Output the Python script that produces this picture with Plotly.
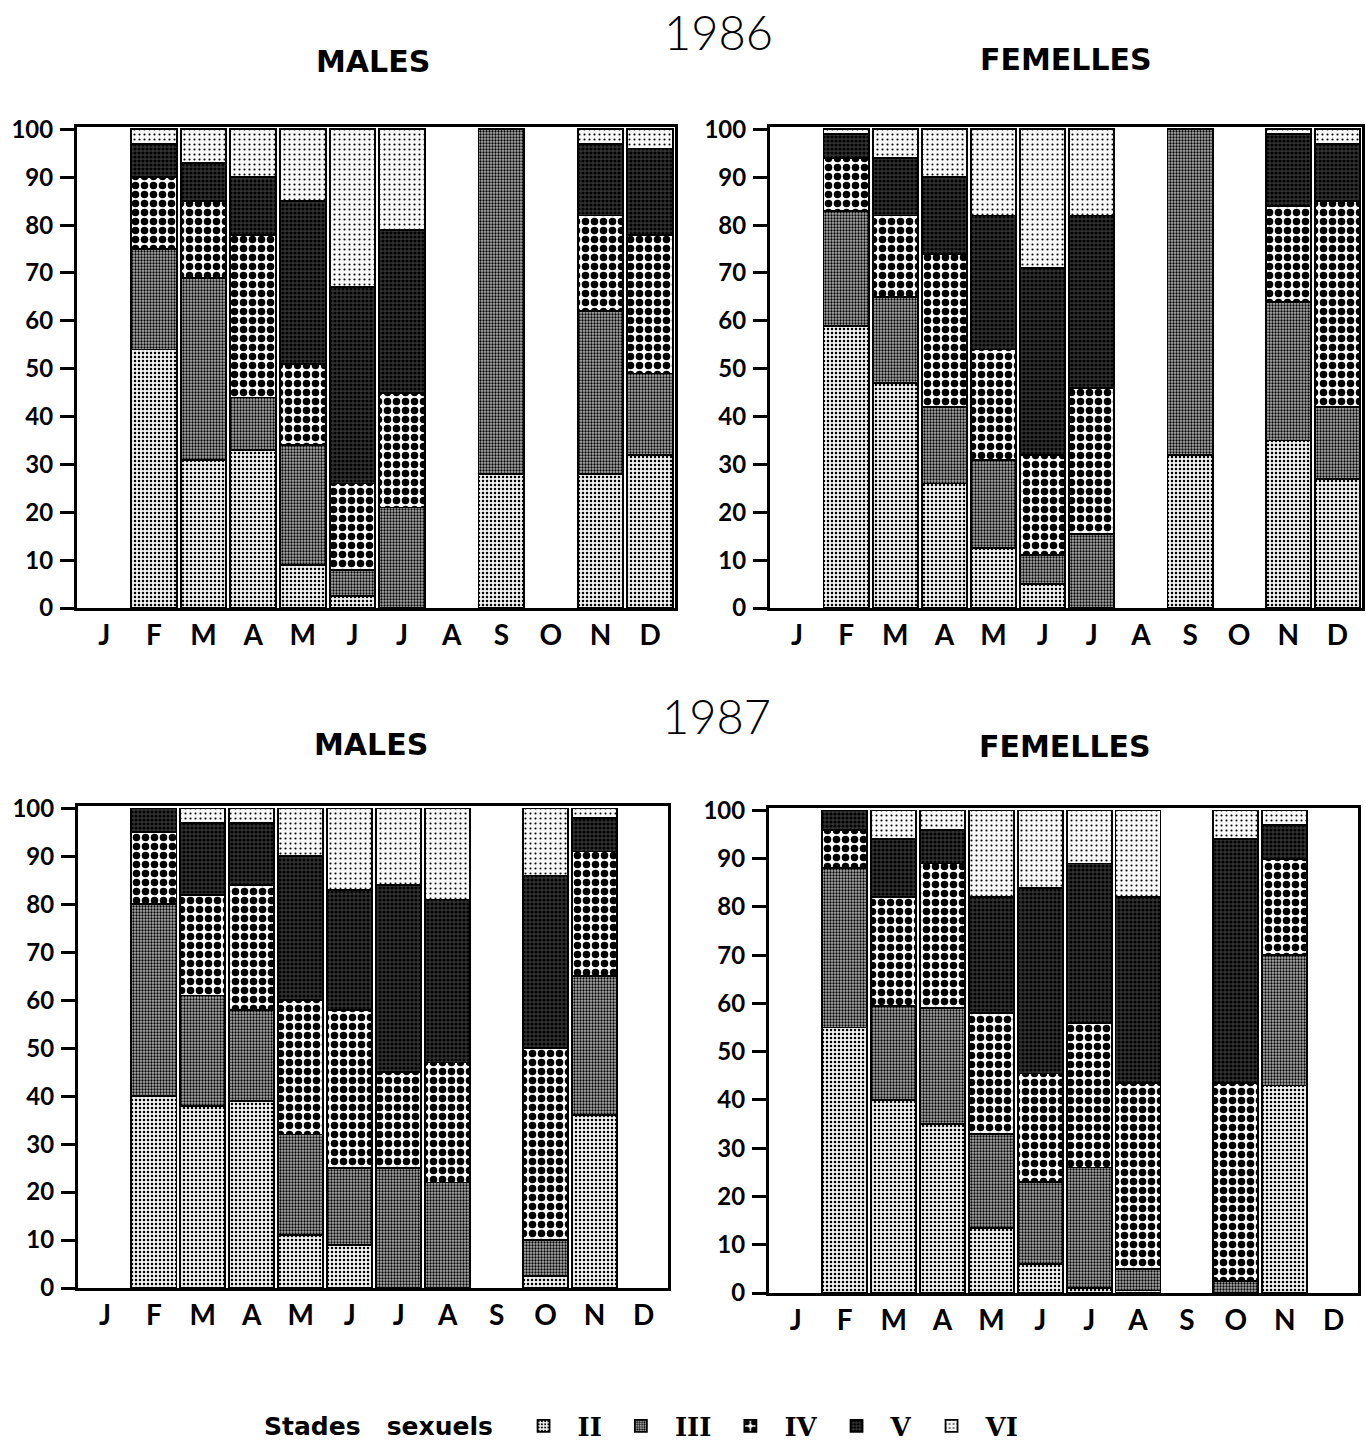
import plotly.graph_objects as go

# ---------------- data ----------------
months = ["J", "F", "M", "A", "M", "J", "J", "A", "S", "O", "N", "D"]
month_pos = list(range(1, 13))
stages = ["II", "III", "IV", "V", "VI"]

# percentages of each sexual stage per month (None = no sample)
males_1986 = {
    "II":  [None, 54, 31, 33, 9, 2.5, 0, None, 28, None, 28, 32],
    "III": [None, 21, 38, 11, 25, 5.5, 21, None, 72, None, 34, 17],
    "IV":  [None, 15, 16, 34, 17, 18, 24, None, 0, None, 20, 29],
    "V":   [None, 7, 8, 12, 34, 41, 34, None, 0, None, 15, 18],
    "VI":  [None, 3, 7, 10, 15, 33, 21, None, 0, None, 3, 4],
}
femelles_1986 = {
    "II":  [None, 59, 47, 26, 12.5, 5, 0, None, 32, None, 35, 27],
    "III": [None, 24, 18, 16, 18.5, 6, 15.5, None, 68, None, 29, 15],
    "IV":  [None, 11, 17, 32, 23, 21, 30.5, None, 0, None, 20, 43],
    "V":   [None, 5, 12, 16, 28, 39, 36, None, 0, None, 15, 12],
    "VI":  [None, 1, 6, 10, 18, 29, 18, None, 0, None, 1, 3],
}
males_1987 = {
    "II":  [None, 40, 38, 39, 11, 9, 0, 0, None, 2.5, 36, None],
    "III": [None, 40, 23, 19, 21, 16, 25, 22, None, 7.5, 29, None],
    "IV":  [None, 15, 21, 26, 28, 33, 20, 25, None, 40, 26, None],
    "V":   [None, 5, 15, 13, 30, 25, 39, 34, None, 36, 7, None],
    "VI":  [None, 0, 3, 3, 10, 17, 16, 19, None, 14, 2, None],
}
femelles_1987 = {
    "II":  [None, 55, 40, 35, 13.5, 6, 1, 0.5, None, 0, 43, None],
    "III": [None, 33, 19.5, 24, 19.5, 17, 25, 4.5, None, 2.5, 27, None],
    "IV":  [None, 8, 22.5, 30, 25, 22.5, 30, 38.5, None, 41, 20, None],
    "V":   [None, 4, 12, 7, 24, 38.5, 33, 38.5, None, 50.5, 7, None],
    "VI":  [None, 0, 6, 4, 18, 16, 11, 18, None, 6, 3, None],
}
y_ticks = list(range(0, 101, 10))

# ---------------- styles ----------------
stage_style = {
    "II":  dict(shape=".", fgcolor="#000000", bgcolor="#f2f2f2", size=4, solidity=0.3, fillmode="replace"),
    "III": dict(shape=".", fgcolor="#000000", bgcolor="#b0b0b0", size=3, solidity=0.45, fillmode="replace"),
    "IV":  dict(shape=".", fgcolor="#000000", bgcolor="#ffffff", size=9, solidity=0.55, fillmode="replace"),
    "V":   dict(shape=".", fgcolor="#000000", bgcolor="#333333", size=4, solidity=0.5, fillmode="replace"),
    "VI":  dict(shape=".", fgcolor="#000000", bgcolor="#f8f8f8", size=5, solidity=0.14, fillmode="replace"),
}

W, H = 1366, 1445
panels = [
    (males_1986, "x", "y", [77 / W, 675 / W], [1 - 608 / H, 1 - 127 / H]),
    (femelles_1986, "x2", "y2", [770 / W, 1362 / W], [1 - 608 / H, 1 - 127 / H]),
    (males_1987, "x3", "y3", [78 / W, 668 / W], [1 - 1288 / H, 1 - 806 / H]),
    (femelles_1987, "x4", "y4", [769 / W, 1358 / W], [1 - 1293 / H, 1 - 808 / H]),
]

fig = go.Figure()
font_main = "Lato"
font_title = "DejaVu Sans"

for i, (data, xa, ya, xd, yd) in enumerate(panels):
    for st in stages:
        fig.add_trace(go.Bar(
            x=month_pos, y=data[st], name=st, xaxis=xa, yaxis=ya,
            legendgroup=st, showlegend=(i == 0),
            marker=dict(color="#ffffff", pattern=stage_style[st],
                        line=dict(color="#000000", width=1.8)),
            width=0.92,
        ))
    sfx = "" if i == 0 else str(i + 1)
    fig.layout["xaxis" + sfx] = dict(
        domain=xd, anchor=ya, range=[0.45, 12.5], tickvals=month_pos, ticktext=months,
        showline=True, linecolor="black", linewidth=3, mirror=True, ticks="",
        showgrid=False, zeroline=False,
        tickfont=dict(family=font_main, size=28, color="black", weight="bold"),
        ticklabelstandoff=0, automargin=False,
    )
    fig.layout["yaxis" + sfx] = dict(
        domain=yd, anchor=xa, range=[0, 100.5], tickvals=y_ticks,
        showline=True, linecolor="black", linewidth=3, mirror=True,
        ticks="outside", ticklen=14, tickwidth=2.5, tickcolor="black",
        showgrid=False, zeroline=False, automargin=False, ticklabelstandoff=2,
        tickfont=dict(family=font_main, size=24, color="black", weight="bold"),
    )

ann = [
    dict(text="1986", x=718, y=32, size=47, weight=300, family=font_main),
    dict(text="MALES", x=373, y=62, size=30, weight="bold", family=font_title),
    dict(text="FEMELLES", x=1066, y=60, size=30, weight="bold", family=font_title),
    dict(text="1987", x=716, y=716, size=47, weight=300, family=font_main),
    dict(text="MALES", x=371, y=744, size=30, weight="bold", family=font_title),
    dict(text="FEMELLES", x=1065, y=746, size=30, weight="bold", family=font_title),
]
for a in ann:
    fig.add_annotation(text=a["text"], x=a["x"] / W, y=1 - a["y"] / H, xref="paper", yref="paper",
                       showarrow=False, xanchor="center", yanchor="middle",
                       font=dict(family=a["family"], size=a["size"], color="black", weight=a["weight"]))

fig.update_layout(
    width=W, height=H,
    margin=dict(l=0, r=0, t=0, b=0, autoexpand=False),
    paper_bgcolor="white", plot_bgcolor="white",
    barmode="stack", bargap=0.08,
    legend=dict(
        orientation="h", x=262 / W, y=1 - 1426 / H, xanchor="left", yanchor="middle",
        title=dict(text="Stades   sexuels ", side="left",
                   font=dict(family=font_title, size=25, color="black", weight="bold")),
        font=dict(family="DejaVu Serif", size=26, color="black", weight="bold"),
        itemwidth=58, traceorder="normal", bgcolor="rgba(0,0,0,0)",
    ),
)

fig.write_html("out.html", config={"displayModeBar": False},
               post_script="document.body.style.margin='0';document.body.style.padding='0';")
